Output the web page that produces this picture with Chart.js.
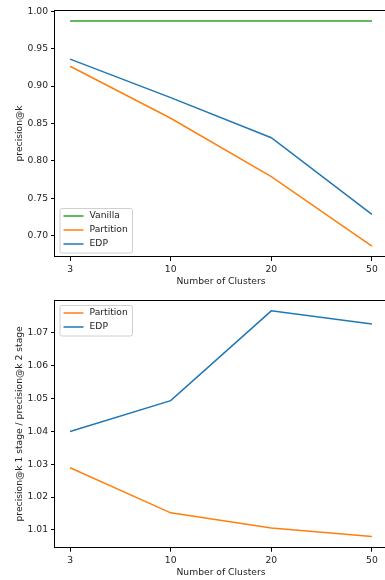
<!DOCTYPE html>
<html>
<head>
<meta charset="utf-8">
<script src="https://cdn.jsdelivr.net/npm/chart.js@4"></script>
<style>
  html, body { margin: 0; padding: 0; background: #fff; overflow: hidden; }
  .wrap { width: 385px; height: 580px; overflow: hidden; }
  canvas { display: block; }
</style>
</head>
<body>
<div class="wrap">
  <canvas id="top" width="388" height="290"></canvas>
  <canvas id="bottom" width="388" height="293"></canvas>
</div>
<script>
// x categories
const clusters = ['3', '10', '20', '50'];

// top panel: precision@k
const vanillaPrecision = [0.987, 0.987, 0.987, 0.987];
const partitionPrecision = [0.9265, 0.857, 0.779, 0.686];
const edpPrecision = [0.936, 0.8845, 0.831, 0.7286];
const topTicks = [0.70, 0.75, 0.80, 0.85, 0.90, 0.95, 1.00];

// bottom panel: precision@k 1 stage / precision@k 2 stage
const partitionRatio = [1.0289, 1.0152, 1.0106, 1.0080];
const edpRatio = [1.0399, 1.0493, 1.0766, 1.0726];
const bottomTicks = [1.01, 1.02, 1.03, 1.04, 1.05, 1.06, 1.07];

const BLUE = '#1f77b4', ORANGE = '#ff7f0e', GREEN = '#2ca02c';
const FONT = { family: 'DejaVu Sans', size: 9.2 };
Chart.defaults.color = '#222';

const toPoints = arr => arr.map((v, i) => ({ x: i, y: v }));

// draw the four spines like matplotlib
const spines = {
    id: 'spines',
    afterDraw(chart) {
        const a = chart.chartArea, ctx = chart.ctx;
        ctx.save();
        ctx.strokeStyle = '#000';
        ctx.lineWidth = 1;
        ctx.strokeRect(Math.round(a.left) - 0.5, Math.round(a.top) + 0.5,
            Math.round(a.right - a.left) + 1, Math.round(a.bottom - a.top) - 1);
        ctx.restore();
    }
};

// matplotlib style legend box inside the axes
const boxLegend = {
    id: 'boxLegend',
    afterDraw(chart, args, opts) {
        const a = chart.chartArea, ctx = chart.ctx;
        const items = chart.data.datasets;
        const w = 72.5, rowH = 14, h = items.length * rowH + 2.5;
        const x = a.left + 4.5;
        const y = opts.where === 'lower' ? a.bottom - 4.5 - h : a.top + 5;
        ctx.save();
        ctx.fillStyle = 'rgba(255,255,255,0.8)';
        ctx.strokeStyle = '#d0d0d0';
        ctx.lineWidth = 1;
        ctx.beginPath();
        ctx.roundRect(x + 0.5, y + 0.5, w, h, 2);
        ctx.fill();
        ctx.stroke();
        ctx.font = '9.2px "DejaVu Sans"';
        ctx.textBaseline = 'middle';
        items.forEach((ds, i) => {
            const cy = y + 8 + i * rowH;
            ctx.strokeStyle = ds.borderColor;
            ctx.lineWidth = 1.5;
            ctx.beginPath();
            ctx.moveTo(x + 4, cy);
            ctx.lineTo(x + 24, cy);
            ctx.stroke();
            ctx.fillStyle = '#222';
            ctx.fillText(ds.label, x + 30, cy);
        });
        ctx.restore();
    }
};

function makeChart(id, datasets, yTicks, yTitle, yMin, yMax, legendWhere, xHeight, xTitlePad) {
    return new Chart(document.getElementById(id), {
        type: 'line',
        data: { datasets },
        options: {
            responsive: false,
            animation: false,
            layout: { padding: { top: 10, right: 1, bottom: 0, left: 0 } },
            plugins: {
                legend: { display: false },
                tooltip: { enabled: false },
                boxLegend: { where: legendWhere }
            },
            elements: {
                point: { radius: 0 },
                line: { borderWidth: 1.5, tension: 0 }
            },
            scales: {
                x: {
                    type: 'linear',
                    min: -0.15,
                    max: 3.15,
                    afterBuildTicks: s => { s.ticks = clusters.map((c, i) => ({ value: i })); },
                    afterFit: s => { s.height = xHeight; },
                    ticks: { font: FONT, padding: 3, maxRotation: 0, callback: v => clusters[v] },
                    grid: { drawOnChartArea: false, drawTicks: true, tickLength: 4, color: '#000' },
                    border: { display: false },
                    title: { display: true, text: 'Number of Clusters', font: FONT, padding: { top: 2, bottom: xTitlePad } }
                },
                y: {
                    min: yMin,
                    max: yMax,
                    afterBuildTicks: s => { s.ticks = yTicks.map(v => ({ value: v })); },
                    afterFit: s => { s.width = 55; },
                    ticks: { font: FONT, padding: 3, callback: v => v.toFixed(2) },
                    grid: { drawOnChartArea: false, drawTicks: true, tickLength: 4, color: '#000' },
                    border: { display: false },
                    title: { display: true, text: yTitle, font: FONT, padding: { top: 14.5, bottom: 4 } }
                }
            }
        },
        plugins: [spines, boxLegend]
    });
}

makeChart('top', [
    { label: 'Vanilla', data: toPoints(vanillaPrecision), borderColor: GREEN },
    { label: 'Partition', data: toPoints(partitionPrecision), borderColor: ORANGE },
    { label: 'EDP', data: toPoints(edpPrecision), borderColor: BLUE }
], topTicks, 'precision@k', 0.6715, 1.0017, 'lower', 33, 3);

makeChart('bottom', [
    { label: 'Partition', data: toPoints(partitionRatio), borderColor: ORANGE },
    { label: 'EDP', data: toPoints(edpRatio), borderColor: BLUE }
], bottomTicks, 'precision@k 1 stage / precision@k 2 stage', 1.0046, 1.0799, 'upper', 35.3, 5);
</script>
</body>
</html>
